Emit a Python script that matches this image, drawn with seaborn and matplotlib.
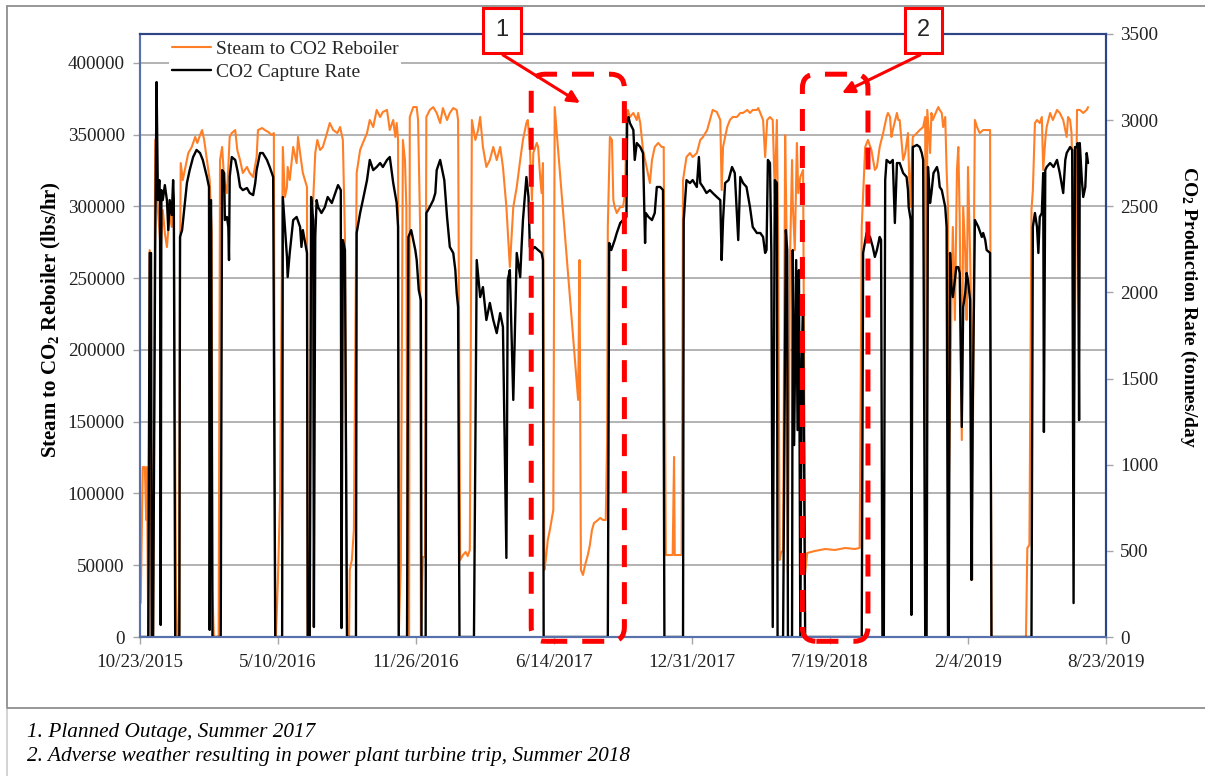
import numpy as np
import pandas as pd
import matplotlib
matplotlib.use("Agg")
import matplotlib.pyplot as plt
import matplotlib.dates as mdates
from matplotlib.patches import FancyBboxPatch, Rectangle
from matplotlib.lines import Line2D
from matplotlib.transforms import IdentityTransform
import seaborn as sns

# ---------------- data ----------------
start_date = "2015-10-23"
end_date = "2019-08-23"

# Steam to CO2 reboiler (lbs/hr); day = days since start_date
steam_day = [1,4,7,9,10,12,14,17,19,22, 25,28,30,33,36,39,43,46,49,52,
             54,57,58,59,62,70,75,80,83,87, 90,93,97,101,104,105,107,114,116,119,
             122,126,128,130,133,138,141,145,149,155, 159,164,169,171,177,181,186,191,194,196,
             197,200,203,207,210,213,214,217,222,227, 229,232,236,242,243,246,248,251,254,257,
             261,265,271,275,280,286,290,294,297,300, 303,304,307,310,314,319,323,329,333,338,
             343,348,352,358,362,367,370,372,374,375, 378,381,384,386,388,390,391,396,401,403,
             406,407,410,413,415,420,425,430,435,439, 445,449,454,459,461,464,468,472,475,478,
             481,486,490,493,497,502,507,512,517,522, 526,531,536,541,546,551,555,560,562,565,
             568,570,575,577,580,582,584,586,588,591, 594,599,601,628,635,637,639,642,645,649,
             652,655,658,662,667,671,675,677,678,681, 684,686,688,691,696,700,703,705,707,710,
             715,720,722,725,729,735,739,742,746,751, 756,759,762,772,774,775,785,787,792,797,
             801,807,812,816,822,826,830,836,841,843, 845,848,851,855,859,865,870,874,880,884,
             888,894,896,899,903,906,909,913,917,920, 923,925,927,929,932,935,937,939,942,945,
             946,949,952,954,957,961,962,964,967,978, 993,1007,1022,1036,1043,1046,1051,1055,1060,1065,
             1068,1072,1077,1082,1084,1087,1089,1091,1097,1099, 1101,1106,1109,1113,1116,1118,1120,1126,1130,1135,
             1138,1139,1141,1145,1147,1149,1155,1157,1159,1162, 1164,1167,1169,1171,1172,1176,1178,1181,1184,1186,
             1188,1191,1193,1196,1198,1200,1203,1205,1206,1209, 1210,1213,1217,1222,1228,1232,1234,1284,1286,1289,
             1292,1294,1297,1300,1304,1307,1309,1312,1314,1319, 1323,1329,1333,1338,1341,1343,1345,1348,1350,1352,
             1354,1358,1362,1367,1372,1374]
steam_val = [23700,118400,118400,81500,118400,0,269500,0,0,346200,
             304400,283500,269500,297400,281400,271600,295300,285600,306500,34800,
             0,0,260500,330100,318300,337100,341300,348300,344100,349600,
             353100,346200,332200,318300,281400,32700,0,0,332200,341300,
             318300,309200,327400,348300,351000,353100,339200,332200,323200,327400,
             323200,320400,334300,353100,354500,353100,351700,349600,351000,0,
             0,41800,97500,341300,306500,313400,327400,318300,341300,330100,
             348300,337100,323200,313400,0,0,278600,304400,337100,346200,
             339200,341300,351000,358000,353100,351000,355200,346200,278600,0,
             0,46700,53600,74500,323200,339200,344100,351000,360100,355200,
             367100,362200,365700,367100,353100,360100,348300,358000,346200,0,
             51500,346200,332200,299500,0,0,362200,369100,369100,360100,
             285600,0,55700,55700,362200,367100,369100,365000,358000,368400,
             360100,365000,368400,367100,360100,53600,57100,59200,56400,60600,
             360100,346200,353100,362200,341300,327400,332200,341300,332200,341300,
             327400,299500,257700,299500,313400,332200,346200,358000,360100,341300,
             304400,337100,344100,341300,320400,309200,330100,46700,53600,67600,
             74500,88500,369100,206900,165100,262600,46700,43200,50100,57100,
             64100,74500,79400,80800,82900,81500,81500,137200,285600,348300,
             346200,304400,299500,295300,299500,299500,309200,360100,367100,362200,
             365000,360100,365000,358000,339200,325300,316200,332200,341300,344100,
             341300,341300,57100,57100,125400,57100,57100,318300,334300,337100,
             334300,337100,346200,348300,353100,360100,367100,365700,360100,311300,
             341300,348300,355200,360100,362200,362200,365000,365000,367100,365000,
             367100,367100,368400,365000,360100,334300,360100,362200,360100,309200,
             360100,271600,53600,58500,60600,349600,283500,44600,262600,332200,
             302300,269500,344100,309200,320400,325300,234700,44600,58500,59900,
             61300,60600,62000,61300,62000,285600,341300,346200,339200,325300,
             327400,341300,351000,362200,365000,362200,348300,353100,365000,360100,
             360100,332200,337100,351000,299500,325300,348300,351000,353100,355200,
             362200,0,367100,337100,365000,360100,367100,369100,367100,365000,
             355200,362200,325300,299500,95400,232600,285600,220800,325300,341300,
             290400,137200,299500,267500,220800,327400,267500,213800,39700,304400,
             360100,355200,351000,353100,353100,353100,0,0,62000,64100,
             297400,311300,358000,360100,358000,362200,325300,346200,355200,365000,
             360100,367100,365000,360100,353100,348300,362200,360100,351000,311300,
             165100,367100,367100,365000,367100,369100]

# CO2 capture rate (tonnes/day)
co2_day = [0,12,14,16,17,19,22,24,26,28, 29,30,31,33,36,39,41,43,46,48,
           49,51,57,58,61,64,68,72,77,82, 87,91,97,100,101,103,105,117,119,122,
           123,126,128,129,130,133,138,142,145,149, 155,159,164,167,169,174,178,184,188,193,
           196,206,207,213,214,217,222,227,232,234, 236,242,243,246,248,251,252,254,256,258,
           263,268,272,278,283,287,291,292,294,297, 300,313,314,319,323,329,333,338,343,348,
           352,358,362,367,372,374,375,387,389,393, 396,399,401,404,407,408,414,415,420,425,
           428,430,435,438,441,445,449,454,457,459, 461,463,484,488,493,497,502,507,512,517,
           522,526,531,533,536,541,546,551,553,555, 560,563,565,568,572,577,582,584,585,678,
           680,683,688,691,696,700,705,706,708,710, 715,717,720,725,729,732,733,737,742,746,
           749,754,758,760,787,788,792,797,801,807, 810,812,816,821,826,830,836,841,843,845,
           848,853,858,862,867,870,874,879,884,888, 894,899,903,906,908,910,913,915,917,920,
           923,924,932,936,938,939,945,946,948,951, 953,955,957,959,961,964,1046,1048,1053,1058,
           1062,1065,1068,1072,1074,1076,1078,1080,1082,1087, 1091,1094,1097,1101,1106,1111,1113,1114,1117,1118,
           1120,1126,1130,1133,1135,1138,1140,1142,1145,1147, 1150,1155,1157,1159,1162,1164,1167,1169,1171,1172,
           1174,1176,1178,1181,1183,1186,1188,1191,1193,1196, 1198,1200,1203,1205,1207,1210,1215,1220,1222,1225,
           1227,1232,1234,1292,1294,1297,1300,1302,1304,1307, 1309,1310,1312,1314,1319,1324,1329,1333,1338,1341,
           1343,1348,1351,1353,1355,1358,1359,1361,1362,1365, 1367,1370,1372,1374]
co2_val = [0,0,2229,2229,0,0,2246,3221,2536,2652,
           2536,70,2594,2536,2623,2536,2362,2536,2449,2652,
           2536,0,0,2322,2362,2478,2635,2710,2786,2827,
           2809,2769,2670,2612,41,2536,0,0,2710,2693,
           2420,2438,2380,2188,2670,2786,2769,2693,2612,2594,
           2606,2577,2565,2635,2710,2809,2809,2769,2728,2670,
           0,0,2554,2206,2089,2229,2420,2438,2380,2264,
           2362,2229,0,0,2554,2420,58,2322,2536,2496,
           2461,2496,2554,2519,2577,2623,2594,52,2304,2246,
           0,0,2345,2461,2536,2652,2769,2710,2728,2751,
           2728,2769,2786,2635,2519,2380,0,0,2322,2362,
           2304,2246,2188,2014,1956,0,0,2461,2496,2536,
           2577,2710,2769,2710,2652,2438,2264,2229,2130,1997,
           1915,0,0,2188,1973,2031,1840,1939,1840,1764,
           1880,1799,459,2072,2130,1376,2229,2089,2264,2420,
           2670,2554,2264,2246,2264,2246,2229,2188,0,0,
           2287,2246,2304,2345,2403,2420,2438,3001,3018,2983,
           2943,2769,2867,2844,2809,2287,2461,2438,2420,2461,
           2612,2612,2594,0,0,2420,2652,2635,2652,2612,
           2786,2635,2612,2577,2594,2577,2554,2536,2188,2420,
           2635,2652,2728,2693,2304,2670,2635,2612,2496,2380,
           2345,2345,2322,2229,2246,2769,2751,2229,58,2652,
           2635,0,0,2362,2246,0,0,2246,1114,2188,
           1201,2130,0,1608,1956,0,0,2229,2345,2322,
           2264,2206,2246,2322,2304,0,0,2652,2769,2751,
           2769,2403,2751,2751,2693,2670,2594,2496,2420,128,
           2844,2856,2844,2809,2769,0,0,2728,2519,2577,
           2693,2728,2693,2612,2594,2554,2496,2380,0,0,
           2229,2031,1973,2072,2147,2147,2113,1219,1915,1997,
           2113,2072,1956,331,1376,2420,2380,2322,2345,2304,
           2246,2229,0,0,2380,2461,2380,2229,2438,2461,
           2693,1190,2710,2728,2751,2728,2769,2693,2577,2769,
           2809,2844,2827,197,2844,2844,2867,1259,2867,2652,
           2554,2612,2809,2751]

date_ticks = ["10/23/2015", "5/10/2016", "11/26/2016", "6/14/2017",
              "12/31/2017", "7/19/2018", "2/4/2019", "8/23/2019"]
steam_ticks = [0, 50000, 100000, 150000, 200000, 250000, 300000, 350000, 400000]
co2_ticks = [0, 500, 1000, 1500, 2000, 2500, 3000, 3500]

series_labels = ["Steam to CO2 Reboiler", "CO2 Capture Rate"]
outage_windows = [("2017-05-12", "2017-09-24"), ("2018-06-09", "2018-09-12")]
callout_labels = ["1", "2"]
notes = ["1. Planned Outage, Summer 2017",
         "2. Adverse weather resulting in power plant turbine trip, Summer 2018"]

# ---------------- style ----------------
sns.set_theme(style="white")
plt.rcParams["font.family"] = ["Liberation Serif", "DejaVu Serif"]
plt.rcParams["mathtext.fontset"] = "custom"
plt.rcParams["mathtext.rm"] = "Liberation Serif"
plt.rcParams["mathtext.bf"] = "Liberation Serif:bold"
plt.rcParams["mathtext.it"] = "Liberation Serif:italic"

ORANGE = "#FF7F27"
GRID = "#a6a6a6"
NAVY = "#2B4585"
NAVY_L = "#5671AC"
RED = "#FF0000"

W, H = 1205, 776
fig = plt.figure(figsize=(W / 100, H / 100), dpi=100)
ax = fig.add_axes([140 / W, 1 - 637 / H, 966 / W, 603 / H])
ax2 = ax.twinx()

start = pd.Timestamp(start_date)
steam_df = pd.DataFrame({"date": start + pd.to_timedelta(steam_day, unit="D"),
                         "value": steam_val})
co2_df = pd.DataFrame({"date": start + pd.to_timedelta(co2_day, unit="D"),
                       "value": co2_val})

sns.lineplot(data=steam_df, x="date", y="value", ax=ax, color=ORANGE,
             linewidth=1.5, estimator=None, sort=False, legend=False)
sns.lineplot(data=co2_df, x="date", y="value", ax=ax2, color="black",
             linewidth=1.7, estimator=None, sort=False, legend=False)

ax.set_xlim(start, pd.Timestamp(end_date))
ax.set_ylim(0, 420000)
ax2.set_ylim(0, 3500)

tick_dates = pd.to_datetime(date_ticks, format="%m/%d/%Y")
ax.set_xticks(tick_dates)
ax.set_xticklabels(date_ticks)
ax.set_yticks(steam_ticks)
ax.set_yticklabels([str(v) for v in steam_ticks])
ax2.set_yticks(co2_ticks)
ax2.set_yticklabels([str(v) for v in co2_ticks])

ax.yaxis.grid(True, color=GRID, linewidth=1.2)
ax.xaxis.grid(False)
ax2.grid(False)
ax.set_axisbelow(True)

for a in (ax, ax2):
    a.set_xlabel("")
    a.spines["top"].set_color(NAVY)
    a.spines["right"].set_color(NAVY)
    a.spines["left"].set_color(NAVY_L)
    a.spines["bottom"].set_color(NAVY_L)
    for s in a.spines.values():
        s.set_linewidth(1.5)

ax.tick_params(axis="x", bottom=True, length=5, width=1, color=GRID,
               labelsize=13.8, labelcolor="#222222", pad=7)
ax.tick_params(axis="y", left=True, length=5, width=1, color=GRID,
               labelsize=13.8, labelcolor="#222222", pad=6)
ax2.tick_params(axis="y", right=True, length=5, width=1, color=GRID,
                labelsize=13.8, labelcolor="#222222", pad=5)

ax.set_ylabel(r"Steam to CO$_\mathbf{2}$ Reboiler (lbs/hr)", fontsize=15,
              fontweight="bold", color="black")
ax.yaxis.set_label_coords(-0.080, 0.526)
ax2.set_ylabel(r"CO$_\mathbf{2}$ Production Rate (tonnes/day", fontsize=14,
               fontweight="bold", color="black", rotation=270, va="center")
ax2.yaxis.set_label_coords(1.085, 0.547)

# legend
handles = [Line2D([], [], color=ORANGE, lw=1.5), Line2D([], [], color="black", lw=1.7)]
leg = ax2.legend(handles, series_labels, loc="upper left",
                 bbox_to_anchor=(0.030, 0.995), frameon=True, fancybox=False,
                 framealpha=1, facecolor="white", edgecolor="none",
                 fontsize=14, borderpad=0.15, labelspacing=0.28,
                 handlelength=2.0, handletextpad=0.25, borderaxespad=0.0)
leg.get_frame().set_linewidth(0)
leg.set_zorder(1)

# outage dashed rounded boxes (drawn in display pixels from data positions)
fig.canvas.draw()
for (d0, d1) in outage_windows:
    x0, y0 = ax.transData.transform((mdates.date2num(pd.Timestamp(d0)), -3000))
    x1, y1 = ax.transData.transform((mdates.date2num(pd.Timestamp(d1)), 392000))
    box = FancyBboxPatch((x0, y0), x1 - x0, y1 - y0,
                         boxstyle="round,pad=0,rounding_size=14",
                         transform=IdentityTransform(), fill=False,
                         edgecolor=RED, linewidth=3.6,
                         linestyle=(0, (4.4, 3.0)), zorder=5)
    fig.add_artist(box)

# callout boxes with arrows (figure coordinates)
callouts = [((483, 8, 38, 45), (503, 55), (580, 103)),
            ((905, 8, 37, 45), (920, 55), (842, 93))]
for lab, ((bx, by, bw, bh), (ax0, ay0), (ax1, ay1)) in zip(callout_labels, callouts):
    fig.add_artist(Rectangle((bx / W, 1 - (by + bh) / H), bw / W, bh / H,
                             transform=fig.transFigure, facecolor="white",
                             edgecolor=RED, linewidth=2.2, zorder=6))
    fig.text((bx + bw / 2) / W, 1 - (by + bh / 2) / H, lab, ha="center",
             va="center", fontsize=17, family=["Liberation Sans", "DejaVu Sans"],
             zorder=7)
    ax.annotate("", xy=(ax1 / W, 1 - ay1 / H), xytext=(ax0 / W, 1 - ay0 / H),
                xycoords="figure fraction", textcoords="figure fraction",
                arrowprops=dict(arrowstyle="-|>", color=RED, lw=2.2,
                                mutation_scale=18, shrinkA=0, shrinkB=0),
                annotation_clip=False, zorder=6)

# outer frame lines
FR = "#8f8f8f"
fig.add_artist(Line2D([7 / W, 1], [1 - 6 / H, 1 - 6 / H], transform=fig.transFigure, color=FR, lw=1.3))
fig.add_artist(Line2D([7 / W, 7 / W], [1 - 6 / H, 1 - 708 / H], transform=fig.transFigure, color=FR, lw=1.3))
fig.add_artist(Line2D([7 / W, 7 / W], [1 - 708 / H, 0], transform=fig.transFigure, color="#d0d0d0", lw=1.3))
fig.add_artist(Line2D([7 / W, 1], [1 - 708 / H, 1 - 708 / H], transform=fig.transFigure, color=FR, lw=1.3))

# notes
for i, t in enumerate(notes):
    fig.text(27 / W, 1 - (733 + 24 * i) / H, t, ha="left", va="center",
             fontsize=15.3, style="italic", color="black")

fig.savefig("out.png", dpi=100, facecolor="white")
